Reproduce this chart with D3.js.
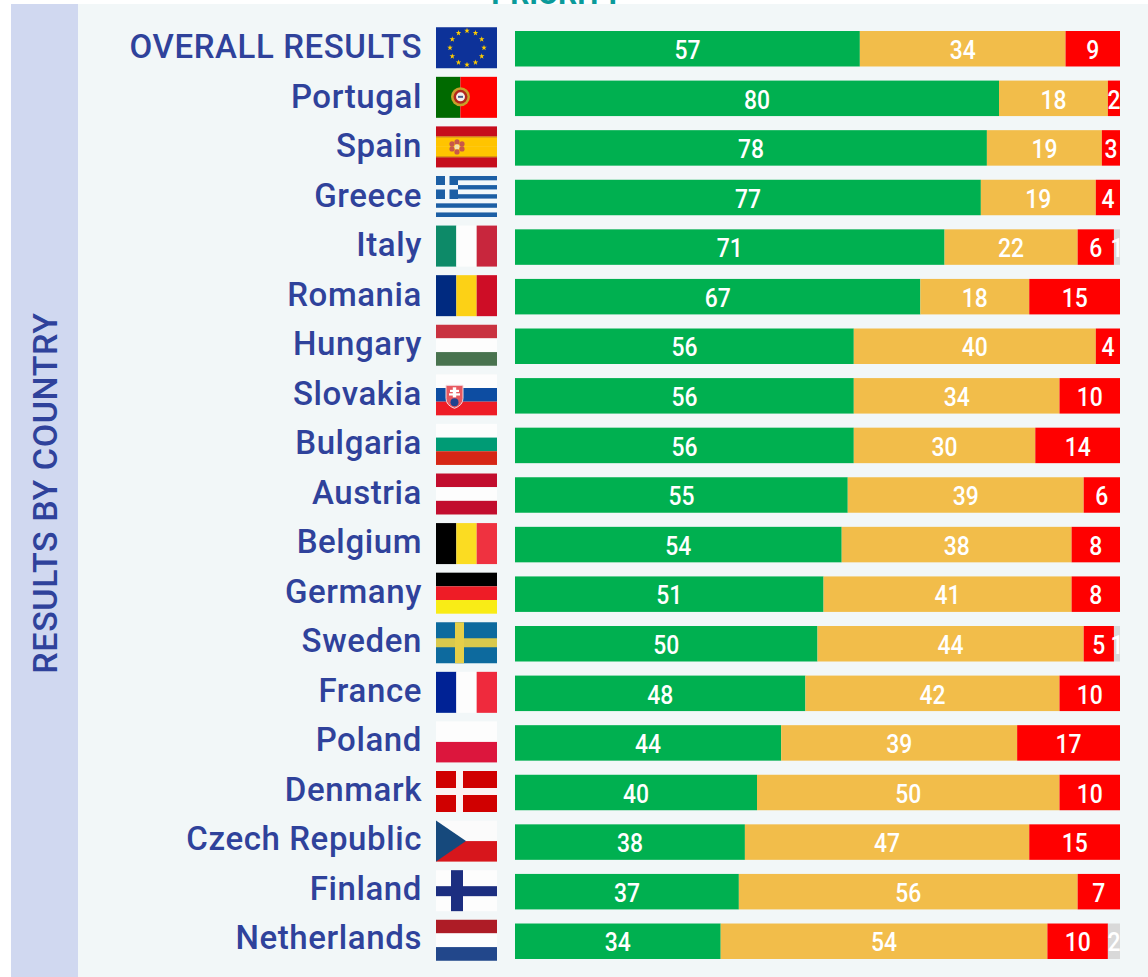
<!DOCTYPE html>
<html><head><meta charset="utf-8">
<script src="https://cdn.jsdelivr.net/npm/d3@7/dist/d3.min.js"></script>
<style>html,body{margin:0;padding:0;background:#fff}svg{display:block}text{font-family:Roboto,sans-serif}</style>
</head><body><svg id="c" width="1148" height="977"><defs><filter id="soft" x="-2%" y="-2%" width="104%" height="104%"><feGaussianBlur stdDeviation="0.35"/></filter></defs></svg>
<script>
const countries=["OVERALL RESULTS","Portugal","Spain","Greece","Italy","Romania","Hungary","Slovakia","Bulgaria","Austria","Belgium","Germany","Sweden","France","Poland","Denmark","Czech Republic","Finland","Netherlands"];
const positive=[57,80,78,77,71,67,56,56,56,55,54,51,50,48,44,40,38,37,34];
const neutral=[34,18,19,19,22,18,40,34,30,39,38,41,44,42,39,50,47,56,54];
const negative=[9,2,3,4,6,15,4,10,14,6,8,8,5,10,17,10,15,7,10];
const unknown=[0,0,0,0,1,0,0,0,0,0,0,0,1,0,0,0,0,0,2];
const seriesColors=["#00b050","#f2bd4a","#ff0000","#d9d9d9"];
const flagStripes={
 "OVERALL RESULTS":["h",["#0a3199"]],
 "Portugal":["v",["#046a00","#ff0000","#ff0000"],[0,.4,1]],
 "Spain":["h",["#c60b1e","#ffc400","#ffc400","#c60b1e"]],
 "Greece":["h",["#1e5fa5","#f2f8fb","#1e5fa5","#f2f8fb","#1e5fa5","#f2f8fb","#1e5fa5","#f2f8fb","#1e5fa5"]],
 "Italy":["v",["#0b8a68","#fdfdfd","#c8283c"]],
 "Romania":["v",["#062a80","#fcd116","#ce1126"]],
 "Hungary":["h",["#c9303f","#fdfdfd","#4a7350"]],
 "Slovakia":["h",["#fdfdfd","#0b4ea2","#ee1c25"]],
 "Bulgaria":["h",["#fdfdfd","#009b74","#d62612"]],
 "Austria":["h",["#c2102e","#fdfdfd","#c2102e"]],
 "Belgium":["v",["#000000","#fbdc23","#ef3340"]],
 "Germany":["h",["#000000","#ee1c25","#f9ec12"]],
 "Sweden":["h",["#0b6a9e"]],
 "France":["v",["#002395","#fdfdfd","#ef2b3d"]],
 "Poland":["h",["#fdfdfd","#dc143c"]],
 "Denmark":["h",["#d00000"]],
 "Czech Republic":["h",["#fbfbfb","#d7141a"]],
 "Finland":["h",["#fdfdfd"]],
 "Netherlands":["h",["#ae1c28","#fdfdfd","#21468b"]]
};
const titleText="PRIORITY";
const sideTitle="RESULTS BY COUNTRY";
const svg=d3.select("#c");
const labelColor="#2f429b";
svg.append("text").text(titleText).attr("x",556.5).attr("y",4).attr("text-anchor","middle").attr("font-size",30).attr("font-weight",700).attr("fill","#0a9a9a").attr("letter-spacing",-0.3);
svg.append("rect").attr("x",11).attr("y",4).attr("width",1137).attr("height",973).attr("fill","#f2f7f8");
svg.append("rect").attr("x",11).attr("y",4).attr("width",67).attr("height",973).attr("fill","#d0d8f0");
svg.append("text").text(sideTitle).attr("text-anchor","middle").attr("font-size",34).attr("letter-spacing",0.6).attr("font-weight",500).attr("fill",labelColor).attr("transform","translate(57,493) rotate(-90)");
const x=d3.scaleLinear().domain([0,100]).range([515,1120]);
const y=d3.scaleBand().domain(countries).range([31,959]).paddingInner(0.2843);
const labelY=d3.scalePoint().domain(countries).range([58,949]);
const rows=countries.map((c,i)=>({c,v:[positive[i],neutral[i],negative[i],unknown[i]]}));
const g=svg.selectAll("g.row").data(rows).join("g").attr("class","row");
g.each(function(d){
  const row=d3.select(this);let acc=0;
  d.v.forEach((v,k)=>{
    if(!v)return;
    const x0=x(acc),x1=x(acc+v);acc+=v;
    row.append("rect").attr("x",x0).attr("y",y(d.c)).attr("width",x1-x0).attr("height",y.bandwidth()).attr("fill",seriesColors[k]);
    row.append("text").text(v).attr("text-anchor","middle").attr("font-size",26).attr("font-weight",500).attr("fill","#fff")
      .attr("transform",`translate(${(x0+x1)/2},${y(d.c)+y.bandwidth()/2+10.2}) scale(0.88,1)`);
  });
  row.append("text").text(d.c).attr("text-anchor","end").attr("font-size",33).attr("font-weight",500).attr("letter-spacing",0.6).attr("fill",labelColor)
     .attr("transform",`translate(422,${labelY(d.c)})`);
  const fg=row.append("g").attr("filter","url(#soft)").attr("transform",`translate(436,${y(d.c)+y.bandwidth()/2-21.5})`);
  drawFlag(fg,d.c);
});
function drawFlag(f,name){
  const W=61,H=41,[dir,cols,stops]=flagStripes[name];
  const pos=stops||d3.range(cols.length+1).map(i=>i/cols.length);
  cols.forEach((c,i)=>{
    const a=pos[i],b=pos[i+1];
    if(b===undefined)return;
    if(dir==="h")f.append("rect").attr("x",0).attr("y",a*H).attr("width",W).attr("height",(b-a)*H).attr("fill",c);
    else f.append("rect").attr("x",a*W).attr("y",0).attr("width",(b-a)*W).attr("height",H).attr("fill",c);
  });
  const R=(x,y,w,h,c)=>f.append("rect").attr("x",x).attr("y",y).attr("width",w).attr("height",h).attr("fill",c);
  if(name==="OVERALL RESULTS"){
    d3.range(12).forEach(i=>{const a=i*Math.PI/6;
      f.append("path").attr("d",d3.symbol(d3.symbolStar,10)()).attr("transform",`translate(${31+17*Math.sin(a)},${20.5-17*Math.cos(a)})`).attr("fill","#ffcc00");});
  }
  if(name==="Portugal"){
    f.append("circle").attr("cx",24.5).attr("cy",20).attr("r",9.5).attr("fill","#c9a02a");
    f.append("circle").attr("cx",24.5).attr("cy",20).attr("r",7).attr("fill","#b3261e");
    f.append("circle").attr("cx",24.5).attr("cy",20).attr("r",4.5).attr("fill","#f4f0ec");
    R(22,19,5,2,"#4a5a8a");
  }
  if(name==="Spain"){
    R(0,10,W,1,"#c9781a");R(0,30,W,1,"#c9781a");
    [[-5,-3],[0,-5],[5,-3],[-5,2],[0,0],[5,2],[0,5]].forEach(p=>f.append("circle").attr("cx",21+p[0]).attr("cy",20.5+p[1]).attr("r",2.6).attr("fill",p[0]===0&&p[1]===0?"#f3e2b0":"#c8594a"));
  }
  if(name==="Greece"){
    R(0,0,22,23,"#1e5fa5");R(9,0,4.5,23,"#f2f8fb");R(0,9,22,4.5,"#f2f8fb");
  }
  if(name==="Slovakia"){
    f.append("path").attr("d","M10 11H27V24Q27 31 18.5 34Q10 31 10 24Z").attr("fill","#e8595f").attr("stroke","#f4d8dc");
    R(16.8,13,3.4,10,"#fff");R(14,15.5,9,2.2,"#fff");R(13,19,11,2.2,"#fff");
    f.append("circle").attr("cx",18.5).attr("cy",28).attr("r",4).attr("fill","#23428f");
  }
  if(name==="Sweden"){
    R(0,16,W,9,"#d9c94e");R(19,0,9,H,"#e6cf48");
  }
  if(name==="Denmark"){
    R(20,0,7,H,"#fbf2f2");R(0,17,W,7,"#fbf2f2");
  }
  if(name==="Czech Republic"){
    f.append("path").attr("d",`M0 0L30 20.5L0 41Z`).attr("fill","#174a7c");
  }
  if(name==="Finland"){
    R(15,0,12,H,"#1f2f80");R(0,16,W,10,"#1f2f80");
  }
}
</script></body></html>
